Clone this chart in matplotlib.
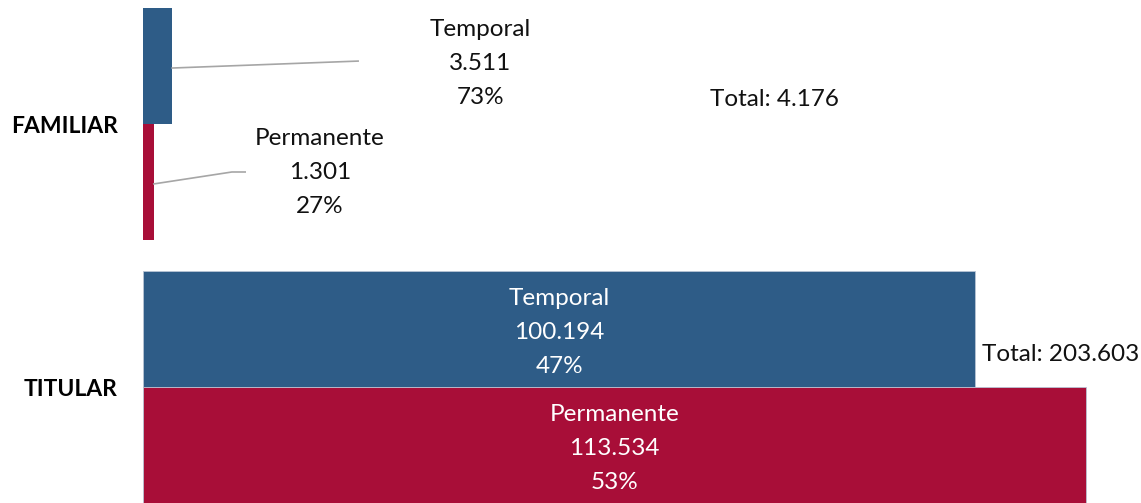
import matplotlib.pyplot as plt

plt.rcParams['font.family'] = ['Lato', 'DejaVu Sans']

grupos = ['FAMILIAR', 'TITULAR']
tipos = ['Temporal', 'Permanente']
familiar = [3511, 1301]
titular = [100194, 113534]
pct_familiar = ['73%', '27%']
pct_titular = ['47%', '53%']
totales = ['4.176', '203.603']

azul = '#2e5c87'
rojo = '#a80e38'

def fmt(v):
    return f'{v:,}'.replace(',', '.')

fig = plt.figure(figsize=(11.41, 5.03), dpi=100)
ax = fig.add_axes([143 / 1141, 0, 998 / 1141, 1])

pos_fam = [0, 1]
pos_tit = [2.27, 3.27]

ax.barh(pos_fam, familiar, height=1, color=[azul, rojo], linewidth=0)
ax.barh(pos_tit, titular, height=1, color=[azul, rojo],
        edgecolor='#b8c4d4', linewidth=0.6)

ax.set_xlim(0, 113534 * 998 / 943)
ax.set_ylim(3.77, -0.57)
for s in ax.spines.values():
    s.set_visible(False)
ax.set_xticks([])
ax.set_yticks([0.5, 2.77])
ax.set_yticklabels(grupos, fontweight='bold', fontsize=16.5)
ax.tick_params(axis='y', length=0, pad=18)

tam = 17.5
esp = 1.75

# etiquetas familiar con líneas guía
ax.plot([familiar[0], 25900], [0.017, -0.043], color='#a6a6a6', lw=1.2)
ax.plot([familiar[1], 10700, 12300], [1.017, 0.914, 0.914], color='#a6a6a6', lw=1.2)
ax.text(40600, -0.02, f'{tipos[0]}\n{fmt(familiar[0])}\n{pct_familiar[0]}',
        ha='center', va='center', fontsize=tam, linespacing=esp, color='#111111')
ax.text(21300, 0.92, f'{tipos[1]}\n{fmt(familiar[1])}\n{pct_familiar[1]}',
        ha='center', va='center', fontsize=tam, linespacing=esp, color='#111111')

# etiquetas titular dentro de las barras
for p, v, t, pc in zip(pos_tit, titular, tipos, pct_titular):
    ax.text(v / 2, p + 0.03, f'{t}\n{fmt(v)}\n{pc}', ha='center', va='center',
            fontsize=tam, linespacing=esp, color='white')

ax.text(68300, 0.29, f'Total: {totales[0]}', ha='left', va='center', fontsize=tam, color='#111111')
ax.text(101000, 2.49, f'Total: {totales[1]}', ha='left', va='center', fontsize=tam, color='#111111')

plt.savefig('out.png', dpi=100)
